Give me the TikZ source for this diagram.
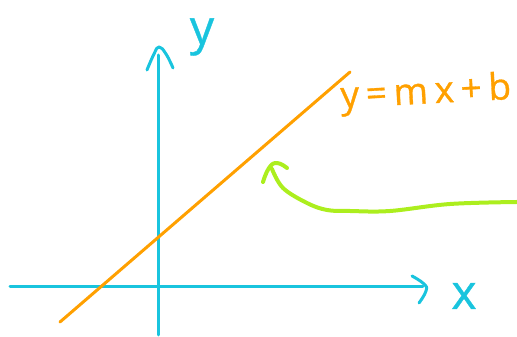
\documentclass[tikz,border=0pt]{standalone}
\usepackage{fontspec}
\newfontfamily\handfont[FakeBold=0.8]{Open Sans}
\usetikzlibrary{positioning}
\definecolor{axiscyan}{RGB}{25,196,222}
\definecolor{lineorange}{RGB}{255,160,0}
\definecolor{penlime}{RGB}{172,238,30}
\tikzset{
	pen/.style={line width=#1, line cap=round, line join=round},
	axisline/.style={pen=3pt, draw=axiscyan},
	hand/.style={font=\handfont\fontsize{#1}{#1}\selectfont, inner sep=0pt}
}
\begin{document}
\begin{tikzpicture}[x=1pt, y=1pt]
	\useasboundingbox (0,0) rectangle (517,337);
	% axes
	\draw[axisline] (10,50) -- (423,50);
	\draw[axisline] plot[smooth, tension=0.8] coordinates {(412,61) (424,53) (426,46) (419,34)};
	\draw[axisline] (158,2) -- (158,282);
	\draw[axisline] plot[smooth, tension=0.8] coordinates {(147,267) (154,283) (159,290) (166,283) (173,269)};
	\node[hand=48, text=axiscyan] (ylab) at (202,300) {y};
	\node[hand=48, text=axiscyan] (xlab) at (464,41) {x};
	% the line
	\draw[pen=3pt, draw=lineorange] (60,15) -- (350,265);
	\node[hand=37, text=lineorange, anchor=base west, rotate=3]
		(eqn) at (341,229) {\addfontfeature{LetterSpace=18}y=mx+b};
	% pointer
	\draw[pen=4pt, draw=penlime] plot[smooth, tension=0.6] coordinates {(517,135) (450,133) (390,126) (350,126) (327,127) (307,134) (283,149) (272,168)};
	\draw[pen=4pt, draw=penlime] plot[smooth, tension=0.8] coordinates {(263,155) (269,169) (277,174) (287,169)};
\end{tikzpicture}
\end{document}
